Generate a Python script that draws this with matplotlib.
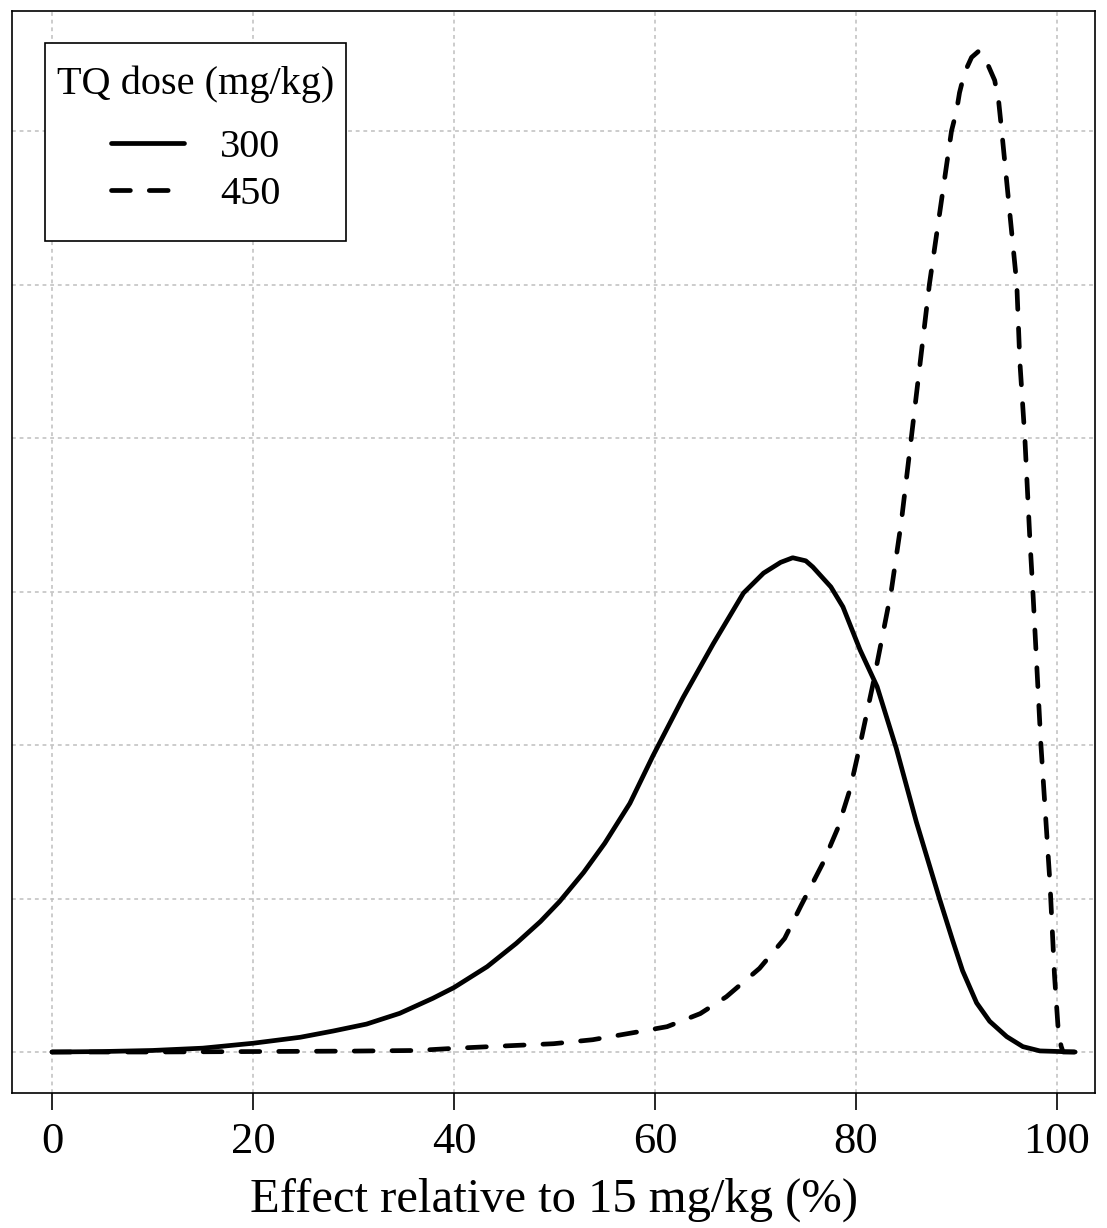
import matplotlib
matplotlib.use("Agg")
import matplotlib.pyplot as plt
from matplotlib.offsetbox import DrawingArea

plt.rcParams['font.family'] = ['Liberation Serif', 'DejaVu Serif']

# Density curves (x in %, y density)
x300 = [0, 5, 10, 15, 20, 24.7, 28.0, 31.3, 34.6, 37.9, 40, 43.3, 46.2, 48.6,
        50.5, 52.9, 55, 57.5, 59.8, 62.8, 65.8, 68.8, 70.8, 72.5, 73.7, 75, 75.7,
        77.5, 78.7, 80.4, 82.1, 84, 86, 88.3, 89.6, 90.6, 92.0, 93.3, 95.0,
        96.6, 98.3, 101.8]
y300 = [0, 0.00003, 0.0001, 0.00025, 0.00057, 0.00096, 0.00137, 0.00182,
        0.00252, 0.0035, 0.0042, 0.00556, 0.00708, 0.0085, 0.0098, 0.0117, 0.0136,
        0.0162, 0.0193, 0.0231, 0.0266, 0.0299, 0.0312, 0.0319, 0.0322, 0.0320,
        0.0316, 0.0303, 0.0290, 0.0262, 0.0238, 0.0198, 0.0150, 0.0100,
        0.0073, 0.0053, 0.0032, 0.0020, 0.0010, 0.00035, 0.00007, 0]

x450 = [0, 10, 20, 30, 36.3, 40, 45.2, 49.9, 53.8, 58.2, 61.2, 64.5, 67.1, 70.4,
        72.9, 74.5, 76.7, 78.2, 79.4, 80.3, 81.7, 83.5, 84.5, 85.5, 87.3, 89.5,
        90.0, 90.3, 90.8, 91.5, 92.2, 93.0, 93.8, 94.2, 94.5, 96.0, 96.3, 96.8,
        97.3, 97.6, 98.4, 99.3, 99.75, 100.1, 100.4, 100.6, 101.8]
y450 = [0, 0, 0.00003, 0.00006, 0.0001, 0.00024, 0.0004, 0.00054, 0.0008,
        0.0013, 0.00165, 0.0025, 0.0036, 0.00545, 0.0074, 0.0095, 0.0123, 0.0146,
        0.0171, 0.0197, 0.0240, 0.0300, 0.0345, 0.0400, 0.0500, 0.0600, 0.0613,
        0.0625, 0.0638, 0.0648, 0.0652, 0.0645, 0.0633, 0.0619, 0.0600, 0.0500,
        0.0450, 0.0400, 0.0334, 0.0300, 0.0200, 0.0110, 0.0050, 0.00165, 0.0004,
        0, 0]

xticks = [0, 20, 40, 60, 80, 100]
yticks = [0, 0.01, 0.02, 0.03, 0.04, 0.05, 0.06]
labels = ['300', '450']
legend_title = 'TQ dose (mg/kg)'
xlabel = 'Effect relative to 15 mg/kg (%)'

fig = plt.figure(figsize=(11.07, 12.28), dpi=100)
ax = fig.add_axes([12/1107, 1 - 1093/1228, (1095-12)/1107, (1093-11)/1228])

for xt in xticks:
    ax.axvline(xt, color='#BEBEBE', lw=1.1, ls=(0, (2.5, 2.5)), zorder=0)
for yt in yticks:
    ax.axhline(yt, color='#BEBEBE', lw=1.1, ls=(0, (2.5, 2.5)), zorder=0)

ax.plot(x300, y300, color='black', lw=3.4, solid_capstyle='round',
        solid_joinstyle='round', label=labels[0], zorder=2)
ax.plot(x450, y450, color='black', lw=3.4, ls=(0, (4, 4)), dash_capstyle='round',
        dash_joinstyle='round', label=labels[1], zorder=3)

ax.set_xlim(-3.98, 103.78)
ax.set_ylim(-0.002671, 0.06782)
ax.set_xticks(xticks)
ax.set_xticklabels([str(v) for v in xticks])
ax.set_yticks([])
ax.tick_params(axis='x', direction='out', length=12, width=1.2, pad=9,
               labelsize=32)
ax.set_xlabel(xlabel, fontsize=35, labelpad=11)
for s in ax.spines.values():
    s.set_linewidth(1.2)

leg = ax.legend(title=legend_title, loc='upper left',
                bbox_to_anchor=(33/1083, 1 - 32/1082), fontsize=29,
                title_fontsize=29, fancybox=False, framealpha=1,
                edgecolor='black', handlelength=1.8, handletextpad=0.9,
                borderpad=0.3, labelspacing=0.25, borderaxespad=0)
leg.get_frame().set_linewidth(1.2)
leg._legend_handle_box.pad = 11.5
leg._legend_box._children.insert(0, DrawingArea(1, 0))

fig.savefig('out.png', dpi=100)
